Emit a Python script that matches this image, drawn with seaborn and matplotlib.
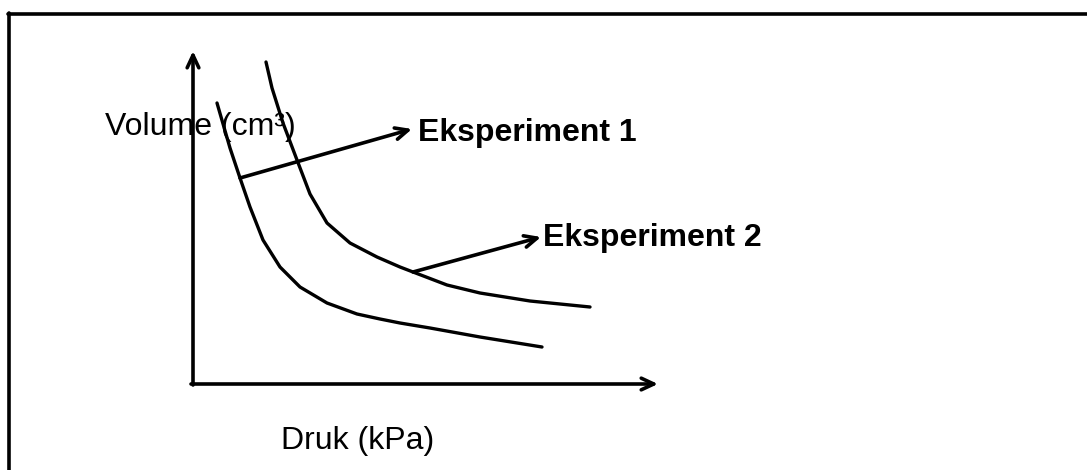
import pandas as pd
import matplotlib.pyplot as plt
import seaborn as sns
from matplotlib.lines import Line2D

sns.set_style("white")
plt.rcParams["font.family"] = ["Liberation Sans", "DejaVu Sans"]
plt.rcParams["text.color"] = "black"

# Schematic values (arbitrary units, origin at the axes corner)
exp1_druk = [24, 37, 47, 57, 70, 87, 107, 134, 164, 187, 207, 237, 287, 349]
exp1_volume = [281, 236, 206, 177, 144, 117, 97, 81, 70, 65, 61, 56, 47, 37]
exp2_druk = [73, 79, 90, 104, 117, 134, 157, 184, 207, 220, 254, 287, 337, 397]
exp2_volume = [322, 296, 261, 224, 190, 161, 141, 127, 117, 112, 99, 91, 83, 77]

x_label = "Druk (kPa)"
y_label = "Volume (cm³)"
labels = ["Eksperiment 1", "Eksperiment 2"]

df = pd.concat([
    pd.DataFrame({"druk": exp1_druk, "volume": exp1_volume, "eksperiment": labels[0]}),
    pd.DataFrame({"druk": exp2_druk, "volume": exp2_volume, "eksperiment": labels[1]}),
])

fig = plt.figure(figsize=(10.87, 4.70), dpi=100)
ax = fig.add_axes([0, 0, 1, 1])
ax.set_xlim(-193, 894)
ax.set_ylim(-86, 384)
ax.axis("off")

sns.lineplot(data=df, x="druk", y="volume", units="eksperiment", estimator=None,
             sort=False, color="black", linewidth=2.4, legend=False, ax=ax, zorder=3)
for line in ax.lines:
    line.set_solid_joinstyle("round")

arrow = dict(arrowstyle="->,head_length=0.9,head_width=0.42", color="black", lw=2.6,
             shrinkA=0, shrinkB=0)

# axes arrows
ax.annotate("", xy=(0, 333), xytext=(0, -1), arrowprops=arrow, zorder=4)
ax.annotate("", xy=(465, 0), xytext=(-2, 0), arrowprops=arrow, zorder=4)

# label arrows
ax.annotate("", xy=(219, 255), xytext=(exp1_druk[2], exp1_volume[2]), arrowprops=arrow, zorder=4)
ax.annotate("", xy=(348, 147), xytext=(exp2_druk[9], exp2_volume[9]), arrowprops=arrow, zorder=4)

ax.text(225, 251, labels[0], fontsize=23, fontweight="bold", ha="left", va="center")
ax.text(350, 146, labels[1], fontsize=23, fontweight="bold", ha="left", va="center")
ax.text(-88, 257, y_label, fontsize=23, ha="left", va="center", zorder=1)
ax.text(88, -57, x_label, fontsize=23, ha="left", va="center")

# frame lines (top and left only)
fig.add_artist(Line2D([7.5 / 1087, 1], [1 - 13.5 / 470, 1 - 13.5 / 470], color="black", lw=2.6))
fig.add_artist(Line2D([8.5 / 1087, 8.5 / 1087], [0, 1 - 12.5 / 470], color="black", lw=2.6))

fig.savefig("out.png", dpi=100)
